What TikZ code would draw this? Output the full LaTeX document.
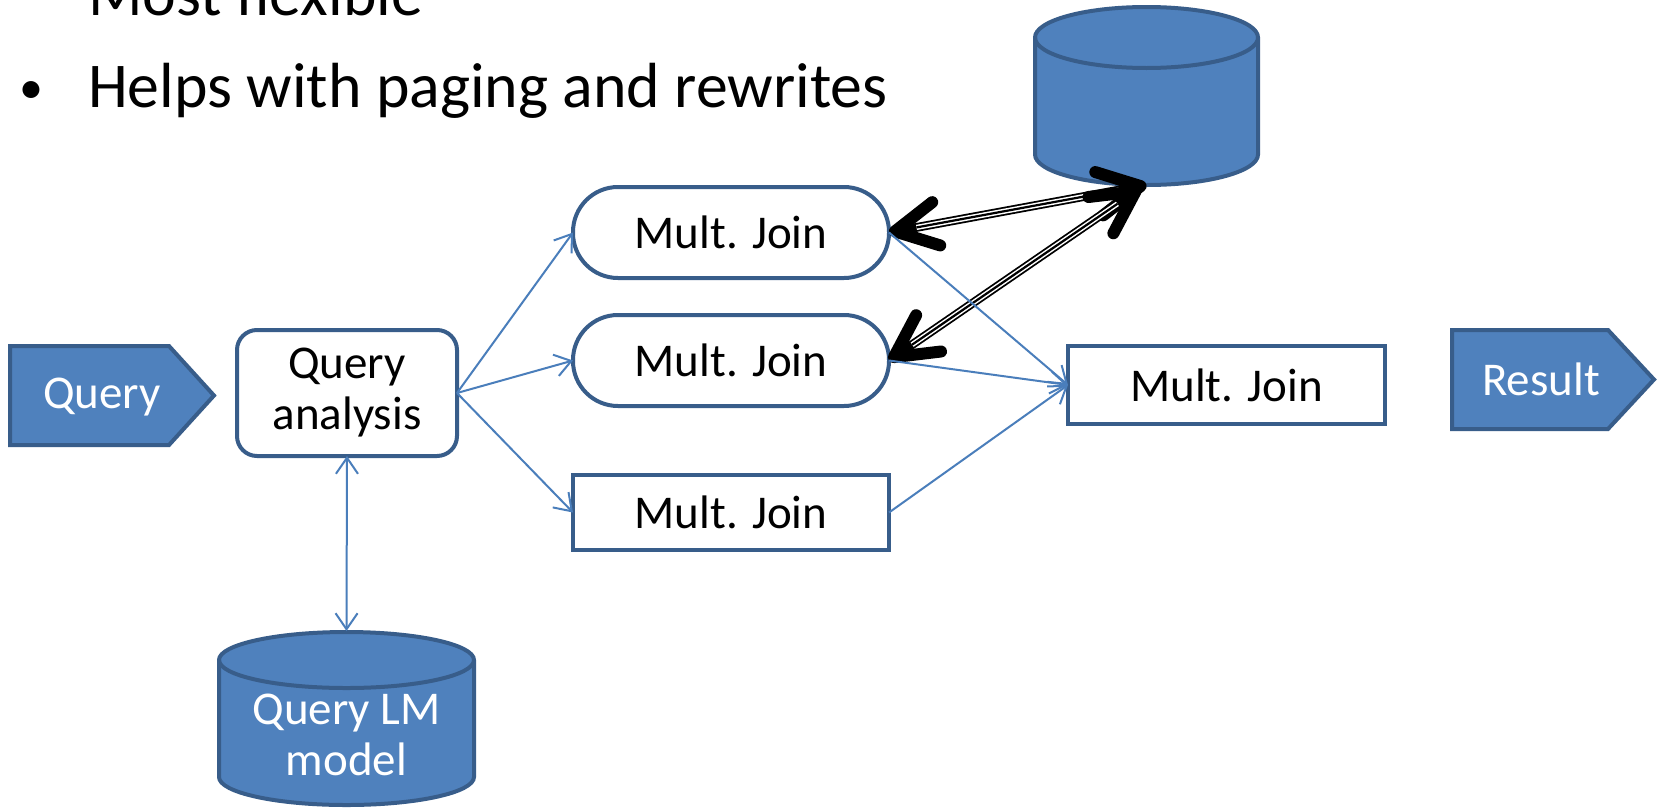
\documentclass[tikz,border=0pt]{standalone}
\usepackage{fontspec}
\setmainfont{Carlito}
\usetikzlibrary{arrows.meta}
\definecolor{shapefill}{HTML}{4F81BD}
\definecolor{shapeline}{HTML}{385D8A}
\definecolor{linkblue}{HTML}{4A7EBB}
\tikzset{
  btip/.tip={Straight Barb[length=8pt,width=11pt]},
  ktip/.tip={Straight Barb[length=21pt,width=22pt,line width=6pt,round]},
}
\begin{document}
\begin{tikzpicture}[x=0.5pt,y=-0.5pt,
  every node/.style={inner sep=0pt, outer sep=0pt},
  label text/.style={font=\fontsize{23.5}{25.5}\selectfont, align=center},
  plainbox/.style={label text, draw=shapeline, line width=2pt, fill=white},
  blueshape/.style={draw=shapeline, line width=2pt, fill=shapefill},
  link/.style={draw=linkblue, line width=1pt, -btip},
  link both/.style={draw=linkblue, line width=1pt, btip-btip},
  heavy/.style={draw=black, line width=4.4pt, ktip-ktip},
  heavy gap/.style={draw=white, line width=2.6pt, shorten <=14pt, shorten >=14pt},
  heavy core/.style={draw=black, line width=1.1pt, shorten <=14pt, shorten >=14pt},
  bullet text/.style={anchor=base west, font=\fontsize{31.9}{38}\selectfont},
]
\useasboundingbox (0,0) rectangle (1658,809);
\clip (0,0) rectangle (1658,809);
\fill[white] (0,0) rectangle (1658,809);

% bullet lines
\node[bullet text] (l1) at (88,15) {Most flexible};
\node[bullet text] (l2) at (88,107) {Helps with paging and rewrites};
\node[anchor=base west, font=\fontsize{24}{24}\selectfont] (dot) at (19,103) {•};

% input and output arrows
\path[blueshape] (10,346) -- (169,346) -- (214,395.5) -- (169,445) -- (10,445) -- cycle;
\node[label text, text=white] (query) at (102,397) {Query};
\path[blueshape] (1452,330) -- (1608,330) -- (1654,379.5) -- (1608,429) -- (1452,429) -- cycle;
\node[label text, text=white] (result) at (1541,379) {Result};

% processing boxes
\node[plainbox, rounded corners=10pt, minimum width=110pt, minimum height=63pt] (qa) at (347,393) {Query\\analysis};
\node[plainbox, rounded corners=22.5pt, minimum width=158pt, minimum height=45.5pt] (mj1) at (731,232.5) {Mult. Join};
\node[plainbox, rounded corners=22.5pt, minimum width=158pt, minimum height=45.5pt] (mj2) at (731,360.5) {Mult. Join};
\node[plainbox, minimum width=158pt, minimum height=37.5pt] (mj3) at (731,512.5) {Mult. Join};
\node[plainbox, minimum width=158.5pt, minimum height=39pt] (mj4) at (1226.5,385) {Mult. Join};

% index store
\path[blueshape] (1035,37.5) -- (1035,154.5)
  arc[start angle=180,end angle=360,x radius=55.75pt,y radius=15.25pt]
  -- (1258,37.5)
  arc[start angle=0,end angle=180,x radius=55.75pt,y radius=15.25pt] -- cycle;
\draw[shapeline, line width=2pt] (1035,37.5)
  arc[start angle=180,end angle=360,x radius=55.75pt,y radius=15.25pt];
\node[minimum width=113.5pt, minimum height=89pt] (dbtop) at (1146.5,96) {};
\coordinate (dbtip) at ([xshift=-3pt,yshift=-1.5pt]dbtop.south);

% query language model store
\path[blueshape] (219,660) -- (219,777)
  arc[start angle=180,end angle=360,x radius=63.75pt,y radius=14pt]
  -- (474,660)
  arc[start angle=0,end angle=180,x radius=63.75pt,y radius=14pt] -- cycle;
\draw[shapeline, line width=2pt] (219,660)
  arc[start angle=180,end angle=360,x radius=63.75pt,y radius=14pt];
\node[minimum width=129.5pt, minimum height=87.5pt] (lm) at (346.5,718.5) {};
\node[label text, text=white] (lmtext) at (346.5,735) {Query LM\\model};

% data exchange with the index store
\draw[heavy] (mj1.east) -- (dbtop.south);
\draw[heavy gap] (mj1.east) -- (dbtop.south);
\draw[heavy core] (mj1.east) -- (dbtop.south);
\draw[heavy] (mj2.east) -- (dbtip);
\draw[heavy gap] (mj2.east) -- (dbtip);
\draw[heavy core] (mj2.east) -- (dbtip);

% plan flow
\draw[link both] (qa.south) -- (lm.north);
\draw[link] (qa.east) -- (mj1.west);
\draw[link] (qa.east) -- (mj2.west);
\draw[link] (qa.east) -- (mj3.west);
\draw[link] (mj1.east) -- (mj4.west);
\draw[link] (mj2.east) -- (mj4.west);
\draw[link] (mj3.east) -- (mj4.west);
\end{tikzpicture}
\end{document}
